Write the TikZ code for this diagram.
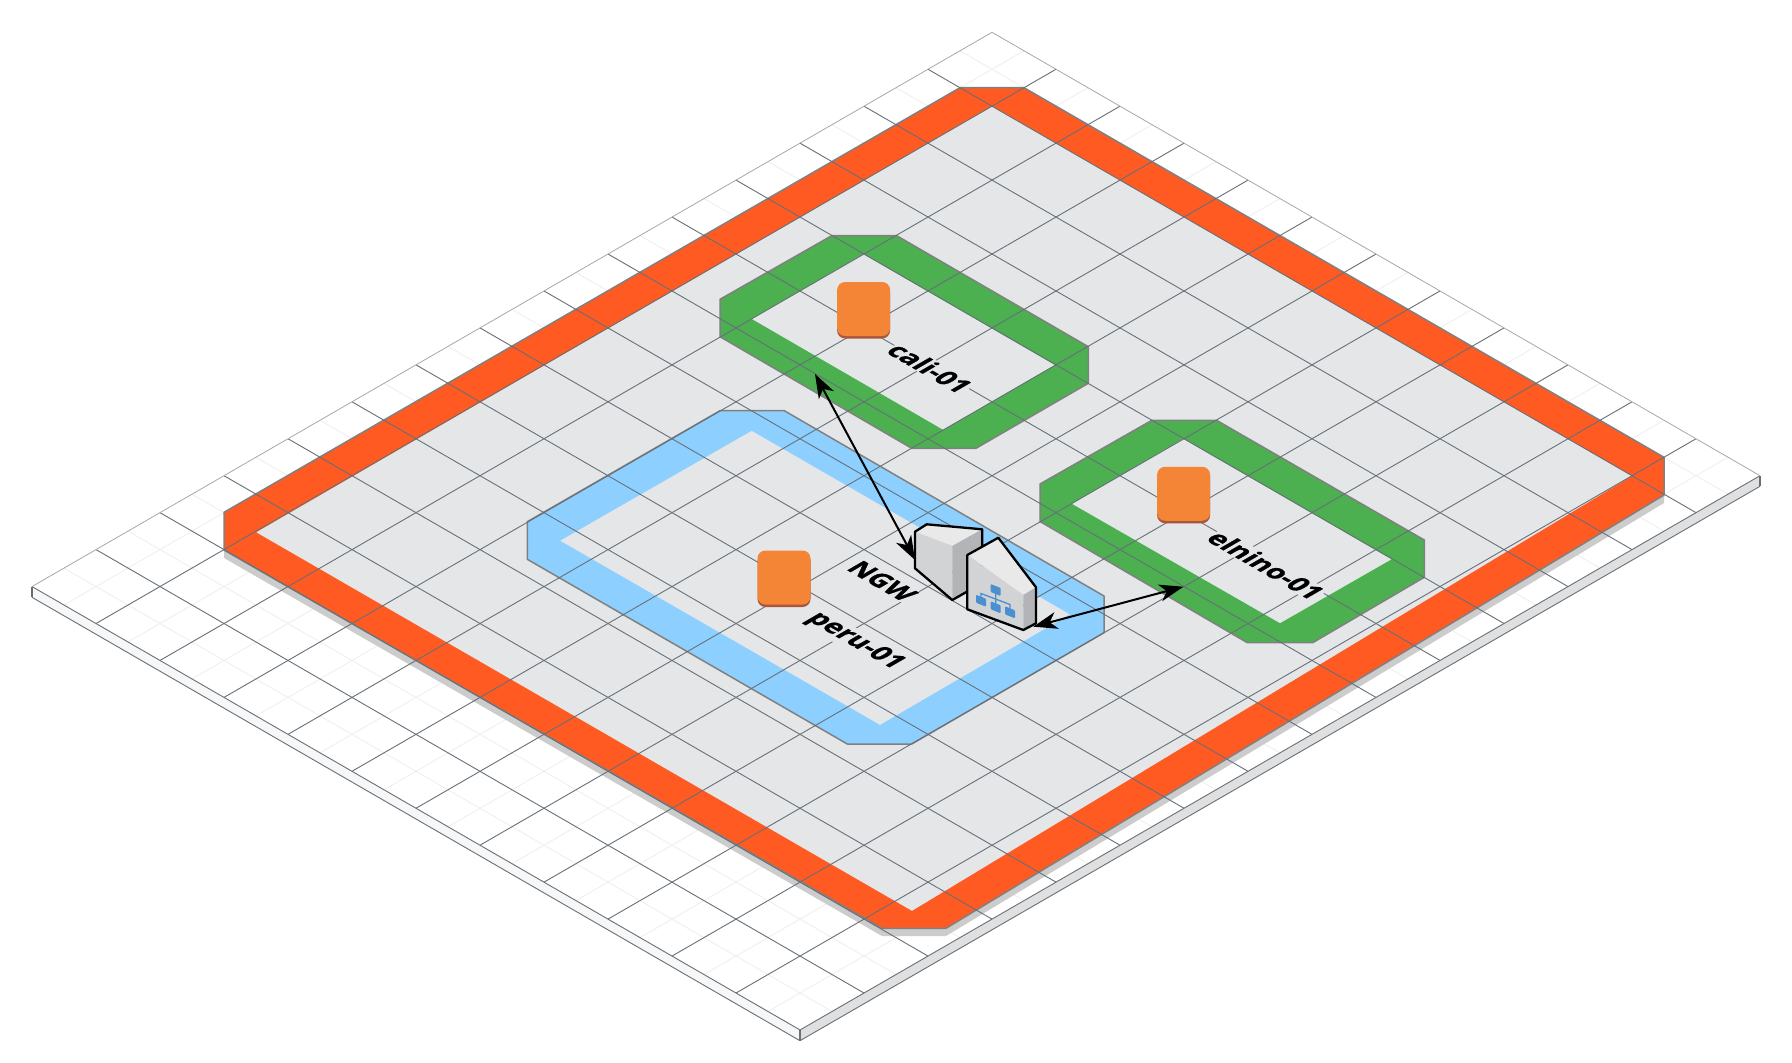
\documentclass[tikz,border=0pt]{standalone}
\usepackage{xcolor}
\usepackage{fontspec}
\setmainfont{Open Sans}[BoldFeatures={FakeBold=0.8}]
\usetikzlibrary{arrows.meta, calc, shadows}
\definecolor{gridline}{HTML}{667079}
\definecolor{minorline}{HTML}{EEEEEE}
\definecolor{rimline}{HTML}{A8A8A8}
\definecolor{plane}{HTML}{E5E6E8}
\definecolor{regionfill}{HTML}{FF5A22}
\definecolor{subnetfill}{HTML}{8DD0FF}
\definecolor{zonefill}{HTML}{4CAF50}
\definecolor{outline}{HTML}{808080}
\definecolor{groundshade}{HTML}{CCCCCC}
\definecolor{instfill}{HTML}{F58536}
\definecolor{instedge}{HTML}{A9573A}
\definecolor{facetop}{HTML}{E9E9EA}
\definecolor{faceleft}{HTML}{D2D3D5}
\definecolor{faceright}{HTML}{B2B4B7}
\definecolor{iconblue}{HTML}{4A8FD0}

\begin{document}
\begin{tikzpicture}[x=1pt,y=-1pt,>=Stealth,
  major/.style={draw=gridline,line width=0.9pt},
  minor/.style={draw=minorline,line width=0.8pt},
  band/.style={even odd rule,fill=#1},
  rim/.style={draw=outline,line width=1.5pt,line join=round},
  inst/.style={draw=none,fill=instfill,rounded corners=8pt,minimum width=53pt,minimum height=54pt,
               inner sep=0pt,general shadow={shadow yshift=-2.5pt,fill=instedge}},
  name text/.style={transform shape,cm={.866,-.5,.866,.5,(0,0)},inner sep=0.8pt,fill=plane,
                    font=\fontsize{26.5pt}{26.5pt}\selectfont\bfseries},
  edgeline/.style={draw=black,line width=2.3pt,line join=round},
  link/.style={draw=black,line width=2pt},
  double tip/.style={{Stealth[length=24pt,width=17pt,inset=7pt]}-{Stealth[length=24pt,width=17pt,inset=7pt]}}]
  \useasboundingbox (0,0) rectangle (1792,1063);
  \fill[white] (0,0) rectangle (1792,1063);

  % slab under the grid
  \fill[white!97!black] (32,587.3) -- (800,1030) -- (800,1040.7) -- (32,597.3) -- cycle;
  \fill[black!12] (800,1030) -- (1760,476) -- (1760,486.3) -- (800,1040.7) -- cycle;
  \draw[major] (32,597.3) -- (800,1040.7) -- (1760,486.3);
  \draw[rim,draw=gridline] (32,587.3) -- (32,597.3) (800,1030) -- (800,1040.7) (1760,476) -- (1760,486.3);

  \begin{scope}[shift={(992,32.3)},x={(64pt,-36.95pt)},y={(-64pt,-36.95pt)}]
    \foreach \k in {0,...,11} \draw[minor] (\k+.5,0) -- (\k+.5,15);
    \foreach \k in {0,...,14} \draw[minor] (0,\k+.5) -- (12,\k+.5);
  \end{scope}

  % region
  \fill[groundshade] (224,520) -- (224,558) -- (882,936) -- (946,936) -- (1664,503) -- (1664,465) -- cycle;
  \fill[plane] (992,106) -- (1632,476) -- (912,911) -- (256,532.3) -- cycle;
  \fill[band=regionfill] (960,87.7) -- (1024,87.7) -- (1664,457.3) -- (1664,495) -- (946,928.3) -- (882,928.3)
    -- (224,550) -- (224,512.3) -- cycle (992,106) -- (1632,476) -- (912,911) -- (256,532.3) -- cycle;
  \draw[rim] (960,87.7) -- (1024,87.7) -- (1664,457.3) -- (1664,495) -- (946,928.3) -- (882,928.3)
    -- (224,550) -- (224,512.3) -- cycle;

  % subnet and zones
  \fill[band=subnetfill] (720,410.7) -- (784.3,410.7) -- (1104,596) -- (1104,632.7) -- (911.7,744) -- (847.3,744)
    -- (527.3,559.3) -- (527.3,521.7) -- cycle (751.7,430.7) -- (1070,614.3) -- (880,725) -- (560,540.7) -- cycle;
  \draw[rim] (720,410.7) -- (784.3,410.7) -- (1104,596) -- (1104,632.7) -- (911.7,744) -- (847.3,744)
    -- (527.3,559.3) -- (527.3,521.7) -- cycle;
  \fill[band=zonefill] (831.7,235.7) -- (896.7,235.7) -- (1088.3,346.7) -- (1088.3,383.3) -- (976,448.3)
    -- (911.7,448.3) -- (720,336.7) -- (720,299.3) -- cycle (863.3,254) -- (1055,365) -- (943.3,430) -- (751.7,319) -- cycle;
  \draw[rim] (831.7,235.7) -- (896.7,235.7) -- (1088.3,346.7) -- (1088.3,383.3) -- (976,448.3)
    -- (911.7,448.3) -- (720,336.7) -- (720,299.3) -- cycle;
  \fill[band=zonefill] (1151.7,420.4) -- (1216.7,420.4) -- (1424.3,540) -- (1424.3,577.3) -- (1312.7,642.7)
    -- (1247.3,642.7) -- (1040,521.5) -- (1040,484) -- cycle (1183.3,438.75) -- (1391.7,559.3) -- (1280,623.3) -- (1071.7,503.75) -- cycle;
  \draw[rim] (1151.7,420.4) -- (1216.7,420.4) -- (1424.3,540) -- (1424.3,577.3) -- (1312.7,642.7)
    -- (1247.3,642.7) -- (1040,521.5) -- (1040,484) -- cycle;

  % grid on top
  \begin{scope}[shift={(992,32.3)},x={(64pt,-36.95pt)},y={(-64pt,-36.95pt)}]
    \foreach \k in {1,...,12} \draw[major] (\k,0) -- (\k,15);
    \foreach \k in {1,...,15} \draw[major] (0,\k) -- (12,\k);
    \draw[rimline,line width=0.8pt] (12,0) -- (0,0) -- (0,15);
  \end{scope}

  % instances and their names
  \coordinate (caliname) at (930,368);
  \coordinate (elninoname) at (1266,565);
  \coordinate (peruname) at (855,641);
  \coordinate (ngwname) at (882.3,581);
  \node[name text] (calilabel) at (caliname) {cali-01};
  \node[name text] (elninolabel) at (elninoname) {elnino-01};
  \node[name text] (perulabel) at (peruname) {peru-01};
  \node[name text] (ngwlabel) at (ngwname) {NGW};
  \node[inst] (cali) at (863.6,309) {};
  \node[inst] (elnino) at (1183.6,493.75) {};
  \node[inst] (peru) at (784,577.5) {};

  % nat gateway
  \fill[facetop] (915,531.7) -- (926.7,524.3) -- (982.3,529.3) -- (952.3,546) -- cycle;
  \fill[faceleft] (915,531.7) -- (952.3,546) -- (952.3,600) -- (915,568.3) -- cycle;
  \fill[faceright] (952.3,546) -- (982.3,529.3) -- (982.3,583) -- (952.3,600) -- cycle;
  \draw[edgeline] (915,531.7) -- (926.7,524.3) -- (982.3,529.3) -- (982.3,583) -- (952.3,600) -- (915,568.3) -- cycle;

  % load balancer
  \fill[facetop] (967.3,555) -- (998.3,537.7) -- (1036,587.3) -- (1023.3,595) -- cycle;
  \fill[faceleft] (967.3,555) -- (1023.3,595) -- (1023.3,630) -- (967.3,609.3) -- cycle;
  \fill[faceright] (1023.3,595) -- (1036,587.3) -- (1036,623.3) -- (1023.3,630) -- cycle;
  \draw[edgeline] (967.3,555) -- (998.3,537.7) -- (1036,587.3) -- (1036,623.3) -- (1023.3,630) -- (967.3,609.3) -- cycle;
  \foreach \cx/\cy in {995.7/590,981/600.7,995.7/607.3,1010/612.3}
    \fill[iconblue,rounded corners=1pt] (\cx-5,\cy-6) -- (\cx+5,\cy-2) -- (\cx+5,\cy+6) -- (\cx-5,\cy+2) -- cycle;
  \draw[iconblue,line width=1.3pt] (995.7,590) -- (995.7,607.3) (981,600.7) -- (981,593.5) -- (1010,604.5) -- (1010,612.3);

  \coordinate (caliport) at (815,374);
  \coordinate (ngwport) at (915,560);
  \coordinate (albport) at (1033.3,626.7);
  \coordinate (elninoport) at (1183.3,586.7);
  \draw[link,double tip] (caliport) -- (ngwport);
  \draw[link,double tip] (albport) -- (elninoport);
\end{tikzpicture}
\end{document}
